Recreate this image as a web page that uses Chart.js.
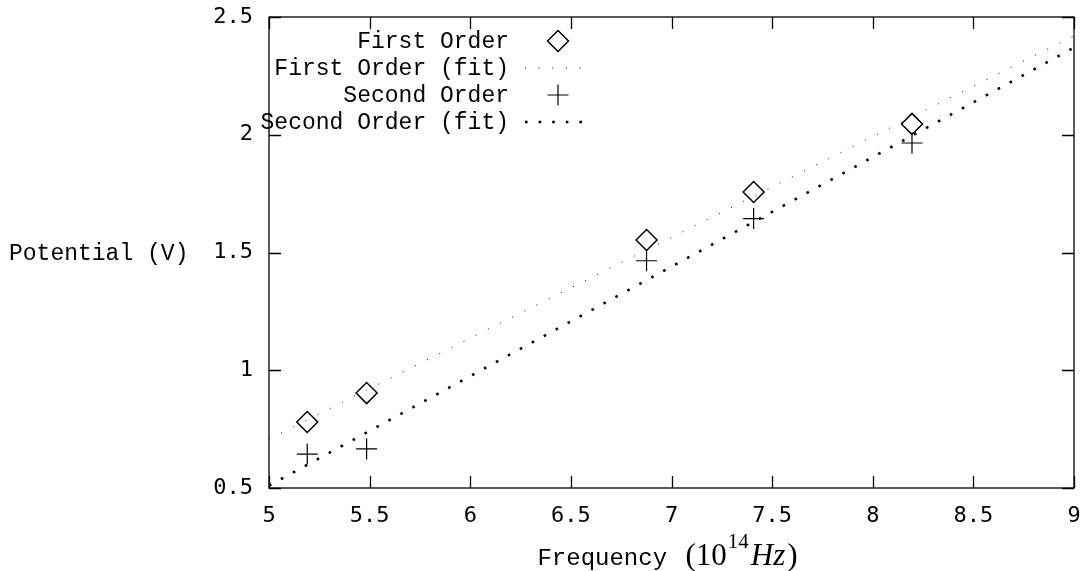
<!DOCTYPE html>
<html>
<head>
<meta charset="utf-8">
<script src="https://cdn.jsdelivr.net/npm/chart.js@4.4.0/dist/chart.umd.min.js"></script>
<style>
  html, body { margin: 0; padding: 0; background: #fff; }
</style>
</head>
<body>
<canvas id="plot" width="1088" height="571"></canvas>
<script>
// measured values (frequency in 10^14 Hz, potential in V)
const frequency = [5.19, 5.485, 6.876, 7.408, 8.195];
const firstOrder = [0.78, 0.903, 1.553, 1.757, 2.046];
const secondOrder = [0.644, 0.666, 1.465, 1.644, 1.965];

// fit lines, given by their end points
const fitX = [5, 9];
const firstFit = [0.708, 2.42];
const secondFit = [0.51, 2.37];

const xTicks = [5, 5.5, 6, 6.5, 7, 7.5, 8, 8.5, 9];
const yTicks = [0.5, 1, 1.5, 2, 2.5];

const xTitle = ['Frequency ', '(', '10', '14', 'Hz', ')'];
const yTitle = 'Potential (V)';

const MONO = '"Liberation Mono", monospace';
const TICKFONT = '"DejaVu Sans Mono", monospace';
const SERIF = '"Liberation Serif", serif';

const pts = (xs, ys) => xs.map((v, i) => ({x: v, y: ys[i]}));

function drawMarker(ctx, style, x, y, r, w) {
  ctx.save();
  ctx.strokeStyle = '#000';
  ctx.lineWidth = w;
  ctx.beginPath();
  if (style === 'rectRot') {
    ctx.moveTo(x - r, y); ctx.lineTo(x, y - r);
    ctx.lineTo(x + r, y); ctx.lineTo(x, y + r);
    ctx.closePath();
  } else {
    ctx.moveTo(x - r, y); ctx.lineTo(x + r, y);
    ctx.moveTo(x, y - r); ctx.lineTo(x, y + r);
  }
  ctx.stroke();
  ctx.restore();
}

// box with inward ticks on all four sides, like gnuplot
const frame = {
  id: 'frame',
  beforeDatasetsDraw(chart) {
    const {ctx, chartArea: a, scales: {x, y}} = chart;
    ctx.save();
    ctx.strokeStyle = '#000';
    ctx.lineWidth = 1.3;
    ctx.beginPath();
    xTicks.forEach(v => {
      const px = Math.round(x.getPixelForValue(v)) + 0.5;
      ctx.moveTo(px, a.bottom); ctx.lineTo(px, a.bottom - 12);
      ctx.moveTo(px, a.top); ctx.lineTo(px, a.top + 12);
    });
    yTicks.forEach(v => {
      const py = Math.round(y.getPixelForValue(v)) + 0.5;
      ctx.moveTo(a.left, py); ctx.lineTo(a.left + 12, py);
      ctx.moveTo(a.right, py); ctx.lineTo(a.right - 12, py);
    });
    ctx.stroke();
    ctx.strokeRect(a.left, a.top, a.right - a.left, a.bottom - a.top);
    ctx.restore();
  }
};

// legend inside the plot, text right aligned, sample on the right
const keyBox = {
  id: 'keyBox',
  afterDraw(chart) {
    const {ctx, chartArea: a} = chart;
    ctx.save();
    ctx.font = '23px ' + MONO;
    ctx.fillStyle = '#000';
    ctx.textAlign = 'right';
    ctx.textBaseline = 'middle';
    chart.data.datasets.forEach((ds, i) => {
      const yy = a.top + 24 + i * 27;
      ctx.fillText(ds.label, a.left + 240, yy + 1);
      if (ds.showLine) {
        ctx.save();
        ctx.strokeStyle = '#000';
        ctx.lineWidth = ds.borderWidth;
        ctx.setLineDash(ds.borderDash);
        ctx.beginPath();
        ctx.moveTo(a.left + 256, yy);
        ctx.lineTo(a.left + 322, yy);
        ctx.stroke();
        ctx.restore();
      } else {
        drawMarker(ctx, ds.pointStyle, a.left + 289, yy, ds.pointRadius, ds.pointBorderWidth);
      }
    });
    ctx.restore();
  }
};

// axis titles: horizontal y title at left, x title with superscript
const titles = {
  id: 'titles',
  afterDraw(chart) {
    const {ctx, chartArea: a} = chart;
    ctx.save();
    ctx.fillStyle = '#000';
    ctx.textBaseline = 'middle';
    ctx.textAlign = 'left';
    ctx.font = '23px ' + MONO;
    ctx.fillText(yTitle, 9, (a.top + a.bottom) / 2 + 1);

    const fonts = ['24px ' + MONO, '31px ' + SERIF, '31px ' + SERIF, '21px ' + SERIF, 'italic 31px ' + SERIF, '31px ' + SERIF];
    const lift = [0, 0, 0, -17, 0, 0];
    const gap = [0, 4, 0, 1, 2, 2];
    ctx.textBaseline = 'alphabetic';
    let total = 0;
    const widths = xTitle.map((t, i) => { ctx.font = fonts[i]; const w = ctx.measureText(t).width + gap[i]; total += w; return w; });
    let cx = (a.left + a.right) / 2 - total / 2 - 4;
    xTitle.forEach((t, i) => {
      ctx.font = fonts[i];
      ctx.fillText(t, cx + gap[i], 565 + lift[i]);
      cx += widths[i];
    });
    ctx.restore();
  }
};

new Chart(document.getElementById('plot'), {
  type: 'scatter',
  data: {
    datasets: [
      {
        label: 'First Order',
        data: pts(frequency, firstOrder),
        pointStyle: 'rectRot',
        pointRadius: 10.5,
        pointBorderWidth: 1.5,
        borderColor: '#000',
        backgroundColor: 'rgba(0,0,0,0)',
        pointHoverRadius: 10.5
      },
      {
        label: 'First Order (fit)',
        data: pts(fitX, firstFit),
        showLine: true,
        borderColor: '#000',
        borderWidth: 1,
        borderDash: [1, 12.6],
        pointRadius: 0
      },
      {
        label: 'Second Order',
        data: pts(frequency, secondOrder),
        pointStyle: 'cross',
        pointRadius: 10.5,
        pointBorderWidth: 1.2,
        borderColor: '#000',
        backgroundColor: 'rgba(0,0,0,0)',
        pointHoverRadius: 10.5
      },
      {
        label: 'Second Order (fit)',
        data: pts(fitX, secondFit),
        showLine: true,
        borderColor: '#000',
        borderWidth: 2.6,
        borderDash: [2.6, 11],
        pointRadius: 0
      }
    ]
  },
  options: {
    responsive: false,
    animation: false,
    events: [],
    layout: { padding: { top: 17, right: 14, left: 0, bottom: 0 } },
    plugins: { legend: { display: false }, tooltip: { enabled: false } },
    scales: {
      x: {
        type: 'linear',
        min: 5, max: 9,
        afterBuildTicks: s => { s.ticks = xTicks.map(v => ({value: v})); },
        afterFit: s => { s.height = 83; s.paddingLeft = 0; s.paddingRight = 0; },
        grid: { display: false, drawTicks: false },
        border: { display: false },
        ticks: { color: '#000', padding: 15, maxRotation: 0, font: { family: TICKFONT, size: 22 }, callback: v => String(v) }
      },
      y: {
        type: 'linear',
        min: 0.5, max: 2.5,
        afterBuildTicks: s => { s.ticks = yTicks.map(v => ({value: v})); },
        afterFit: s => { s.width = 269; s.paddingTop = 0; s.paddingBottom = 0; },
        grid: { display: false, drawTicks: false },
        border: { display: false },
        ticks: { color: '#000', padding: 16, font: { family: TICKFONT, size: 22 }, callback: v => String(v) }
      }
    }
  },
  plugins: [frame, keyBox, titles]
});
</script>
</body>
</html>
